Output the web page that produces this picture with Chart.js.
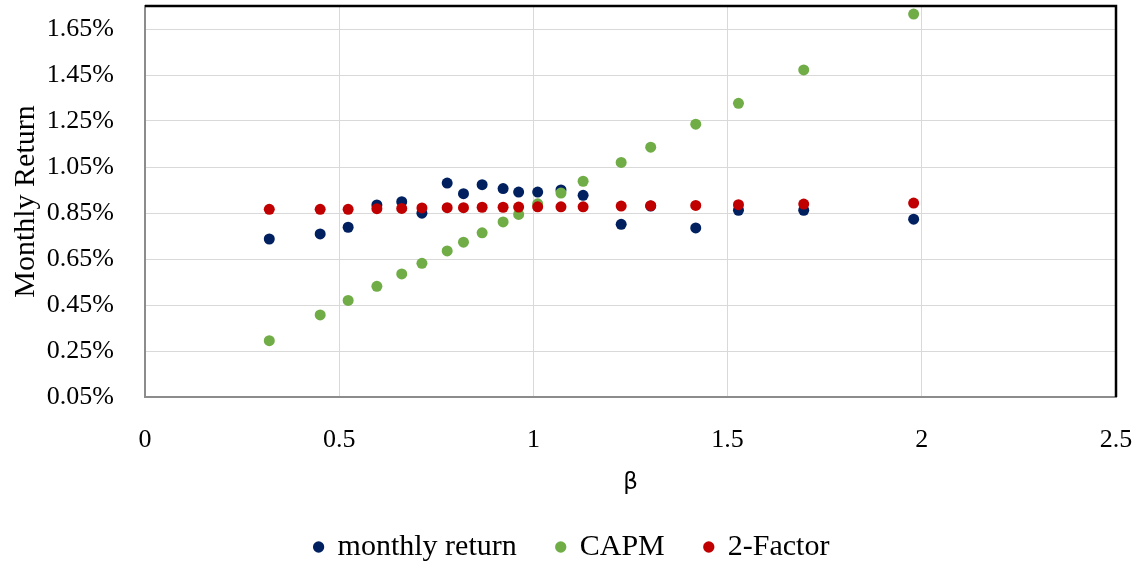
<!DOCTYPE html>
<html>
<head>
<meta charset="utf-8">
<script src="https://cdn.jsdelivr.net/npm/chart.js@4"></script>
<style>
  html, body { margin: 0; padding: 0; background: #fff; }
  #wrap { width: 1144px; height: 563px; }
</style>
</head>
<body>
<div id="wrap"><canvas id="betaChart"></canvas></div>
<script>
// betas of the portfolios (x axis)
const betas = [0.320, 0.451, 0.523, 0.597, 0.661, 0.713, 0.778, 0.820, 0.868, 0.922,
               0.962, 1.011, 1.071, 1.128, 1.226, 1.302, 1.418, 1.528, 1.696, 1.979];
// monthly returns in %
const monthlyReturn = [0.737, 0.759, 0.788, 0.885, 0.899, 0.849, 0.980, 0.934, 0.973, 0.956,
                       0.941, 0.941, 0.950, 0.927, 0.801, 0.880, 0.785, 0.862, 0.862, 0.823];
const capm = [0.295, 0.407, 0.470, 0.531, 0.585, 0.631, 0.685, 0.723, 0.764, 0.811,
              0.844, 0.890, 0.937, 0.988, 1.070, 1.136, 1.236, 1.327, 1.472, 1.715];
const twoFactor = [0.866, 0.866, 0.866, 0.869, 0.870, 0.872, 0.873, 0.873, 0.875, 0.875,
                   0.876, 0.877, 0.877, 0.877, 0.880, 0.882, 0.883, 0.886, 0.889, 0.893];

const seriesNames = ["monthly return", "CAPM", "2-Factor"];
const yTicks = [0.05, 0.25, 0.45, 0.65, 0.85, 1.05, 1.25, 1.45, 1.65];
const xTicks = [0, 0.5, 1, 1.5, 2, 2.5];

const serif = "'Liberation Serif', serif";

function toPoints(ys) {
  return ys.map((y, i) => ({ x: betas[i], y: y }));
}

// black frame on top and right of the plot area
const frameLines = {
  id: "frameLines",
  afterLayout(chart) {
    // nudge the legend so its items sit centred under the page
    chart.legend.left += 14;
    chart.legend.right += 14;
  },
  afterDatasetsDraw(chart) {
    const a = chart.chartArea;
    const ctx = chart.ctx;
    ctx.save();
    ctx.strokeStyle = "#000";
    ctx.lineWidth = 2.5;
    ctx.beginPath();
    ctx.moveTo(a.left, a.top);
    ctx.lineTo(a.right, a.top);
    ctx.lineTo(a.right, a.bottom);
    ctx.stroke();
    ctx.restore();
  }
};

function noPad(axis) {
  axis.paddingTop = 0;
  axis.paddingBottom = 0;
  axis.paddingLeft = 0;
  axis.paddingRight = 0;
}

const ctx = document.getElementById("betaChart").getContext("2d");
const myChart = new Chart(ctx, {
  type: "scatter",
  data: {
    datasets: [
      { label: seriesNames[0], data: toPoints(monthlyReturn), backgroundColor: "#002060", order: 3 },
      { label: seriesNames[1], data: toPoints(capm), backgroundColor: "#70AD47", order: 2 },
      { label: seriesNames[2], data: toPoints(twoFactor), backgroundColor: "#C00000", order: 1 }
    ]
  },
  options: {
    responsive: true,
    maintainAspectRatio: false,
    animation: false,
    layout: { padding: { top: 6, right: 28, left: 0, bottom: 0 } },
    elements: {
      point: { radius: 5.5, hoverRadius: 5.5, borderWidth: 0, pointStyle: "circle" }
    },
    scales: {
      x: {
        type: "linear",
        min: 0,
        max: 2.5,
        afterBuildTicks: (axis) => { axis.ticks = xTicks.map(v => ({ value: v })); },
        afterFit: (axis) => { axis.height = 95; noPad(axis); },
        ticks: {
          padding: 28,
          color: "#000",
          font: { family: serif, size: 26 },
          callback: (v) => String(v)
        },
        grid: { color: "#d9d9d9", lineWidth: 1, drawTicks: false },
        border: { color: "#8c8c8c", width: 2 },
        title: {
          display: true,
          text: "β",
          color: "#000",
          font: { family: "'DejaVu Sans', sans-serif", size: 23 },
          padding: { top: 0, bottom: -5 }
        }
      },
      y: {
        type: "linear",
        min: 0.05,
        max: 1.75,
        afterBuildTicks: (axis) => { axis.ticks = yTicks.map(v => ({ value: v })); },
        afterFit: (axis) => { axis.width = 145; noPad(axis); },
        ticks: {
          padding: 31,
          color: "#000",
          font: { family: serif, size: 26 },
          callback: (v) => v.toFixed(2) + "%"
        },
        grid: { color: "#d9d9d9", lineWidth: 1, drawTicks: false },
        border: { color: "#8c8c8c", width: 2 },
        title: {
          display: true,
          text: "Monthly Return",
          color: "#000",
          font: { family: serif, size: 30 },
          padding: { top: 8, bottom: 0 }
        }
      }
    },
    plugins: {
      legend: {
        position: "bottom",
        maxHeight: 71,
        labels: {
          usePointStyle: true,
          pointStyle: "circle",
          boxWidth: 8,
          boxHeight: 8,
          padding: 40,
          color: "#000",
          font: { family: serif, size: 30 },
          sort: (a, b) => a.datasetIndex - b.datasetIndex
        }
      },
      tooltip: { enabled: false }
    }
  },
  plugins: [frameLines]
});
</script>
</body>
</html>
